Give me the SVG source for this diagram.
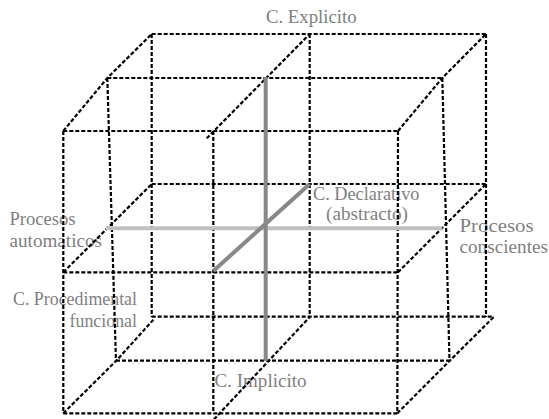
<svg xmlns="http://www.w3.org/2000/svg" width="549" height="419" viewBox="0 0 549 419">
<style>
.lbl{font-size:17.8px;fill:#7f7f7f}
.d{fill:none;stroke:#000;stroke-width:2.2;stroke-dasharray:4 2}
.g1{fill:none;stroke:#888;stroke-width:4}
.g2{fill:none;stroke:#c0c0c0;stroke-width:4}
</style>
<rect width="549" height="419" fill="#fff"/>
<g id="labels" font-family="'Liberation Serif', serif">
<g id="explicito"><text class="lbl" x="266" y="23" textLength="90.5" lengthAdjust="spacingAndGlyphs">C. Explicito</text></g>
<g id="declarativo"><text class="lbl" x="313" y="199.5" textLength="106.5" lengthAdjust="spacingAndGlyphs">C. Declarativo</text><text class="lbl" x="326" y="220" textLength="82" lengthAdjust="spacingAndGlyphs">(abstracto)</text></g>
<g id="automaticos"><text class="lbl" x="9.5" y="225" textLength="66" lengthAdjust="spacingAndGlyphs">Procesos</text><text class="lbl" x="9.5" y="246.5" textLength="92.5" lengthAdjust="spacingAndGlyphs">automaticos</text></g>
<g id="conscientes"><text class="lbl" x="459.5" y="231.5" textLength="74" lengthAdjust="spacingAndGlyphs">Procesos</text><text class="lbl" x="459.5" y="253" textLength="88.5" lengthAdjust="spacingAndGlyphs">conscientes</text></g>
<g id="procedimental"><text class="lbl" x="13" y="305" textLength="124" lengthAdjust="spacingAndGlyphs">C. Procedimental</text><text class="lbl" x="69.5" y="326.5" textLength="67.5" lengthAdjust="spacingAndGlyphs">funcional</text></g>
<g id="implicito"><text class="lbl" x="214.5" y="386.5" textLength="92" lengthAdjust="spacingAndGlyphs">C. Implicito</text></g>
</g>
<g id="connectors">
<g id="back">
<path class="d" d="M151.7 34H486M151.7 184H486M151.7 316.7H494"/>
<path class="d" d="M151.7 34V317M309.7 34V317M486 34V317"/>
</g>
<g id="middle">
<path class="d" d="M107.3 78H442.3M116 360.7H449.5"/>
<path class="d" d="M107.3 78L116 361M442.3 78L449.5 361"/>
</g>
<g id="front">
<path class="d" d="M63.3 131H398M63.3 272.3H398M63.3 413.3H397.3"/>
<path class="d" d="M63.3 131V413.3M213.3 131V413.3M398 131L397.3 413.3"/>
</g>
<g id="diagonals">
<path class="d" d="M63.3 131L107.3 78L151.7 34"/>
<path class="d" d="M206.7 138.3L309.7 34"/>
<path class="d" d="M398 131L442.3 78L486 34"/>
<path class="d" d="M63.3 272.3L151.7 184"/>
<path class="d" d="M398 272.3L486 184"/>
<path class="d" d="M63.3 413.3L116 361L154 319"/>
<path class="d" d="M214 419.3L309.7 317"/>
<path class="d" d="M397.3 413.3L449.5 361L494 316.7"/>
</g>
<g id="axes">
<path class="g2" d="M106 228.3H442.3"/>
<path class="g1" d="M265.7 77V361"/>
<path class="g1" d="M213.3 271L309.7 184"/>
</g>
</g>
</svg>
